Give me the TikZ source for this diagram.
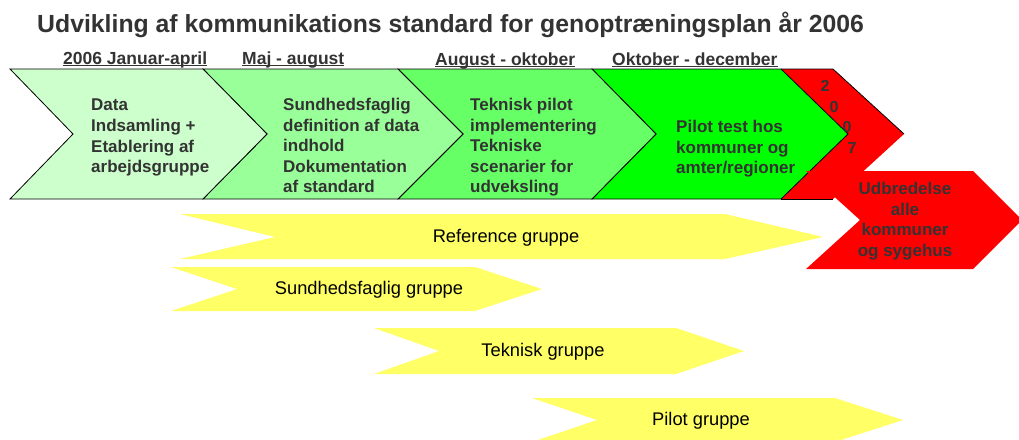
\documentclass[tikz,border=0pt]{standalone}
\usepackage{fontspec}
\setmainfont{Liberation Sans}
\definecolor{ink}{HTML}{333333}
\definecolor{phaseA}{HTML}{CCFFCC}
\definecolor{phaseB}{HTML}{99FF99}
\definecolor{phaseC}{HTML}{66FF66}
\definecolor{phaseD}{HTML}{00FF00}
\definecolor{phaseE}{HTML}{FF0000}
\definecolor{grp}{HTML}{FFFF66}
% underlined period heading
\newcommand\periodul[1]{\setbox0\hbox{#1}\rlap{\rule[-2.2pt]{\wd0}{1.1pt}}\box0}
\begin{document}
\begin{tikzpicture}[x=1pt,y=-1pt,
  phase/.style={draw=black,line width=0.8pt,line join=miter},
  bodytext/.style={text=ink,font=\fontsize{17}{20.6}\selectfont\bfseries,align=left,inner sep=0pt},
  period/.style={text=ink,font=\fontsize{17.5}{20}\selectfont\bfseries,inner sep=0pt,anchor=base west},
  grouparrow/.style={fill=grp,draw=none},
  grouptext/.style={text=black,font=\fontsize{18.3}{20}\selectfont,inner sep=0pt},
  digit/.style={text=ink,font=\fontsize{16}{18}\selectfont\bfseries,inner sep=0pt}]
\useasboundingbox (0,0) rectangle (1019,439);
\clip (0,0) rectangle (1019,439);

% title
\node[text=ink,font=\fontsize{24.8}{28}\selectfont\bfseries,anchor=west,inner sep=0pt] (title) at (37,25)
  {Udvikling af kommunikations standard for genoptræningsplan år 2006};

% period headings
\node[period] (hA) at (63,64) {\periodul{2006 Januar-april}};
\node[period] (hB) at (242,64) {\periodul{Maj - august}};
\node[period] (hC) at (435,65) {\periodul{August - oktober}};
\node[period] (hD) at (612,65) {\periodul{Oktober - december}};

% phase chevrons
\fill[phaseE] (781,69) -- (833,69) -- (904,134) -- (833,199) -- (781,199) -- (848,134) -- cycle;
\draw[line width=0.8pt] (781,69) -- (833,69) -- (904,134);
\draw[line width=0.8pt] (781,199) -- (833,199);
\filldraw[phase,fill=phaseD] (592,69) -- (781,69) -- (848,134) -- (781,199) -- (592,199) -- (656,134) -- cycle;
\filldraw[phase,fill=phaseC] (398,69) -- (592,69) -- (656,134) -- (592,199) -- (398,199) -- (463,134) -- cycle;
\filldraw[phase,fill=phaseB] (203,69) -- (398,69) -- (463,134) -- (398,199) -- (203,199) -- (267,134) -- cycle;
\filldraw[phase,fill=phaseA] (10,69) -- (203,69) -- (267,134) -- (203,199) -- (10,199) -- (73,134) -- cycle;

\node[bodytext,anchor=north west] (tA) at (91,99) {Data\\Indsamling +\\Etablering af\\arbejdsgruppe};
\node[bodytext,anchor=north west] (tB) at (283,98) {Sundhedsfaglig\\definition af data\\indhold\\Dokumentation\\af standard};
\node[bodytext,anchor=north west] (tC) at (470,98) {Teknisk pilot\\implementering\\Tekniske\\scenarier for\\udveksling};
\node[bodytext,anchor=north west] (tD) at (676,120) {Pilot test hos\\kommuner og\\amter/regioner};

% rollout shape
\fill[phaseE] (806,171) -- (973,171) -- (1022,220) -- (973,269) -- (806,269) -- (860,220) -- cycle;
\node[bodytext,align=center] (tE) at (905,221) {Udbredelse\\alle\\kommuner\\og sygehus};

% year digits
\node[digit] (y1) at (825,86) {2};
\node[digit] (y2) at (834,107) {0};
\node[digit] (y3) at (847,127) {0};
\node[digit] (y4) at (852,148) {7};

% working groups
\fill[grouparrow] (180,214) -- (725,214) -- (823,237) -- (725,259) -- (180,259) -- (275,237) -- cycle;
\node[grouptext] (gRef) at (506,238) {Reference gruppe};
\fill[grouparrow] (171,267) -- (475,267) -- (542,289) -- (475,311) -- (171,311) -- (237,289) -- cycle;
\node[grouptext] (gSun) at (369,290) {Sundhedsfaglig gruppe};
\fill[grouparrow] (374,328) -- (676,328) -- (744,351) -- (676,374) -- (374,374) -- (439,351) -- cycle;
\node[grouptext] (gTek) at (543,352) {Teknisk gruppe};
\fill[grouparrow] (532,398) -- (835,398) -- (903,420) -- (835,442) -- (532,442) -- (597,420) -- cycle;
\node[grouptext] (gPil) at (701,421) {Pilot gruppe};
\end{tikzpicture}
\end{document}
